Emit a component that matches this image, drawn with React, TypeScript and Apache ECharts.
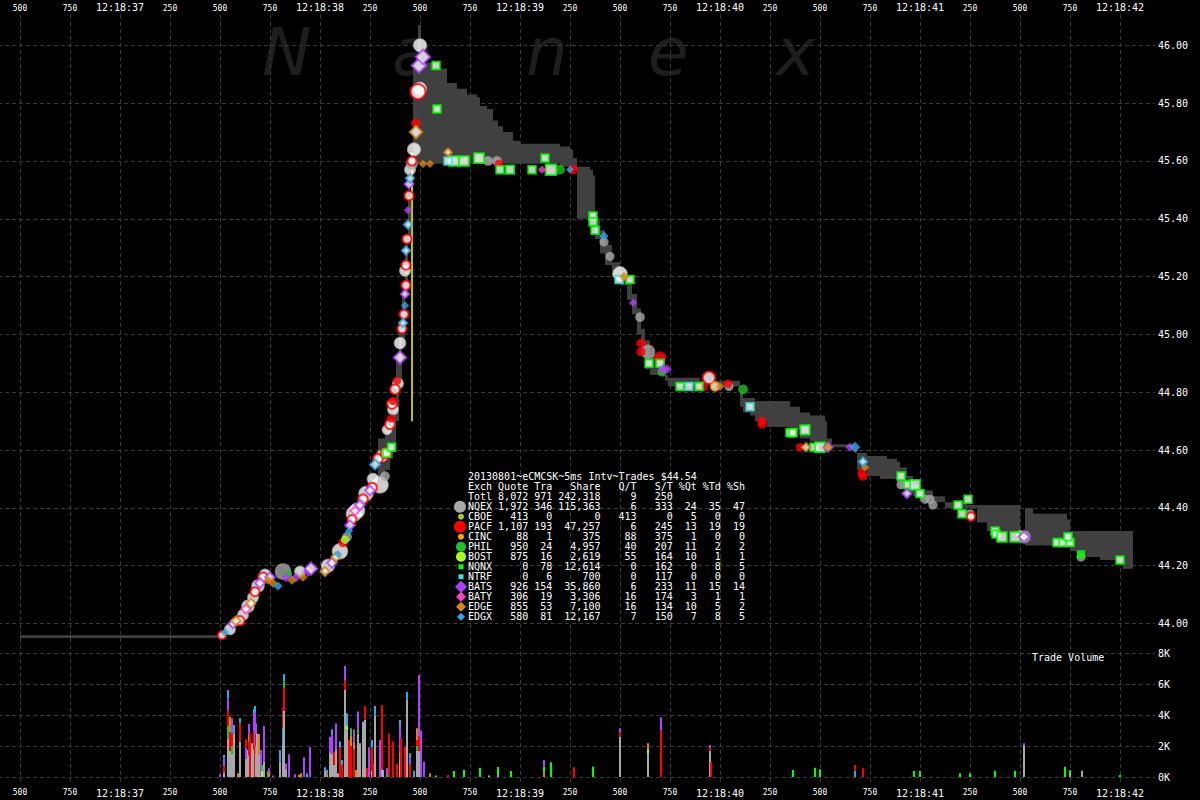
import React, { useEffect, useRef } from "react";
import * as echarts from "echarts";

// ---------- DATA ----------
const exchanges = ["NQEX", "CBOE", "PACF", "CINC", "PHIL", "BOST", "NQNX", "NTRF", "BATS", "BATY", "EDGE", "EDGX"];
const exColors = ["#a8a8a8", "#9acd32", "#ff0000", "#ffa500", "#22c322", "#a8ff28", "#00ff00", "#40e0d0", "#b040ff", "#ff40c8", "#d4880c", "#30a8e8"];
const exSymbols = ["circle", "circle", "circle", "circle", "circle", "circle", "rect", "rect", "diamond", "diamond", "diamond", "diamond"];

const quoteCounts = [1972, 413, 1107, 88, 950, 875, 0, 0, 926, 306, 855, 580];
const tradeCounts = [346, 0, 193, 1, 24, 16, 78, 6, 154, 19, 53, 81];
const shareCounts = [115363, 0, 47257, 375, 4957, 2619, 12614, 700, 35860, 3306, 7100, 12167];
const qtRatios = [6, 413, 6, 88, 40, 55, 0, 0, 6, 16, 16, 7];
const stRatios = [333, 0, 245, 375, 207, 164, 162, 117, 233, 174, 134, 150];
const pctQuotes = [24, 5, 13, 1, 11, 10, 0, 0, 11, 3, 10, 7];
const pctTrades = [35, 0, 19, 0, 2, 1, 8, 0, 15, 1, 5, 8];
const pctShares = [47, 0, 19, 0, 2, 1, 5, 0, 14, 1, 2, 5];
const totalRow = [8072, 971, 242318, 9, 250];
const chartTitle = "20130801~eCMCSK~5ms Intv~Trades $44.54";

// time = seconds after 12:18:36, price in $; [t, price, shares, hollow]
const tradesNQEX = [
  [1.55, 43.98, 300, 1], [1.615, 44.03, 300, 1], [1.64, 44.06, 500, 1], [1.665, 44.09, 300, 1],
  [1.69, 44.13, 500, 1], [1.725, 44.17, 300, 1], [1.815, 44.18, 1200, 0], [1.9, 44.18, 300, 1],
  [2.04, 44.2, 600, 1], [2.1, 44.25, 1000, 1], [2.135, 44.3, 200, 0], [2.17, 44.38, 1000, 1],
  [2.185, 44.39, 1000, 1], [2.23, 44.45, 800, 1], [2.3, 44.48, 1200, 1], [2.265, 44.5, 400, 1],
  [2.325, 44.51, 200, 0], [2.31, 44.58, 400, 1], [2.335, 44.67, 200, 1], [2.365, 44.74, 300, 1],
  [2.39, 44.83, 300, 1], [2.4, 44.97, 400, 1], [2.425, 45.22, 300, 1], [2.45, 45.57, 300, 1],
  [2.46, 45.59, 400, 0], [2.47, 45.64, 600, 1], [2.5, 45.85, 600, 1], [2.5, 46.0, 600, 1],
  [2.84, 45.6, 200, 0], [2.885, 45.6, 200, 0], [3.42, 45.32, 150, 0], [3.45, 45.27, 150, 0],
  [3.5, 45.21, 800, 1], [3.6, 45.06, 200, 0], [3.64, 44.94, 800, 0], [4.045, 44.82, 150, 0],
  [4.905, 44.48, 150, 0], [5.025, 44.43, 150, 0], [5.05, 44.43, 150, 0], [5.065, 44.41, 150, 0],
  [5.25, 44.38, 150, 0], [5.52, 44.3, 600, 0], [5.805, 44.23, 150, 0],
];
const tradesPACF = [
  [1.51, 43.96, 100, 1], [1.6, 44.01, 150, 1], [1.675, 44.11, 150, 1], [1.715, 44.16, 200, 1],
  [2.115, 44.28, 150, 0], [2.16, 44.36, 150, 1], [2.215, 44.43, 200, 1], [2.26, 44.47, 200, 1],
  [2.29, 44.57, 200, 1], [2.33, 44.59, 300, 1], [2.35, 44.69, 200, 1], [2.355, 44.71, 100, 0],
  [2.36, 44.76, 200, 1], [2.365, 44.77, 100, 0], [2.375, 44.81, 200, 1], [2.385, 44.84, 100, 0],
  [2.41, 45.02, 150, 1], [2.42, 45.07, 150, 1], [2.43, 45.17, 150, 1], [2.43, 45.24, 150, 1],
  [2.435, 45.33, 150, 1], [2.445, 45.48, 150, 1], [2.46, 45.6, 150, 1], [2.48, 45.73, 200, 0],
  [2.49, 45.84, 900, 1], [2.895, 45.59, 100, 0], [3.265, 45.57, 200, 0], [3.605, 44.97, 150, 0],
  [3.605, 44.94, 150, 0], [3.7, 44.92, 500, 0], [3.945, 44.85, 500, 1], [3.915, 44.82, 200, 0],
  [4.04, 44.83, 100, 0], [4.21, 44.7, 150, 0], [4.21, 44.69, 150, 0], [4.4, 44.61, 100, 0],
  [4.71, 44.52, 150, 0], [4.715, 44.51, 150, 0], [5.255, 44.37, 100, 1],
];
const tradesCINC = [[3.975, 44.82, 100, 1]];
const tradesPHIL = [[1.84, 44.17, 100, 0], [3.2, 45.57, 200, 0], [3.71, 44.87, 150, 0], [4.115, 44.81, 200, 0]];
const tradesBOST = [[2.125, 44.29, 100, 0], [5.5, 44.31, 60, 0]];
const tradesNQNX = [
  [2.333, 44.59, 100, 1], [2.358, 44.61, 100, 1], [2.58, 45.93, 100, 1], [2.585, 45.78, 100, 1],
  [2.67, 45.6, 300, 1], [2.72, 45.6, 300, 1], [2.795, 45.61, 300, 1], [2.9, 45.57, 100, 1],
  [2.95, 45.57, 150, 1], [3.06, 45.57, 100, 1], [3.125, 45.61, 100, 1], [3.155, 45.57, 400, 1],
  [3.365, 45.41, 100, 1], [3.365, 45.39, 100, 1], [3.375, 45.36, 100, 1], [3.55, 45.19, 100, 1],
  [3.645, 44.9, 100, 1], [3.7, 44.9, 100, 1], [3.8, 44.82, 100, 1], [3.895, 44.82, 100, 1],
  [4.35, 44.66, 100, 1], [4.365, 44.66, 100, 1], [4.425, 44.67, 250, 1], [4.47, 44.61, 100, 1],
  [4.5, 44.61, 300, 1], [4.905, 44.51, 100, 1], [4.94, 44.48, 100, 1], [4.975, 44.48, 300, 1],
  [5.0, 44.45, 100, 1], [5.19, 44.41, 100, 1], [5.24, 44.43, 100, 1], [5.21, 44.38, 100, 1],
  [5.375, 44.32, 100, 1], [5.38, 44.31, 100, 1], [5.41, 44.3, 300, 1], [5.475, 44.3, 300, 1],
  [5.685, 44.28, 100, 1], [5.715, 44.28, 100, 1], [5.75, 44.28, 100, 1], [5.74, 44.3, 100, 1],
  [5.805, 44.24, 150, 0], [6.0, 44.22, 100, 1],
];
const tradesNTRF = [[2.64, 45.6, 100, 1], [3.495, 45.19, 100, 1], [3.845, 44.82, 100, 1], [4.15, 44.75, 100, 1]];
const tradesBATS = [
  [1.565, 44.0, 150, 1], [1.7, 44.14, 200, 1], [1.75, 44.16, 200, 1], [1.83, 44.16, 200, 0],
  [1.88, 44.16, 200, 0], [1.94, 44.18, 300, 0], [1.955, 44.19, 500, 1], [2.06, 44.21, 200, 1],
  [2.15, 44.34, 200, 1], [2.2, 44.41, 200, 1], [2.25, 44.46, 200, 1], [2.4, 44.92, 500, 1],
  [2.425, 45.14, 100, 1], [2.44, 45.43, 100, 0], [2.445, 45.52, 150, 1], [2.495, 45.93, 800, 1],
  [2.515, 45.96, 800, 1], [3.565, 45.11, 100, 0], [3.715, 44.88, 200, 0], [3.735, 44.88, 200, 0],
  [4.54, 44.61, 150, 1], [4.65, 44.61, 150, 0], [4.935, 44.45, 150, 1], [5.52, 44.3, 300, 1],
];
const tradesBATY = [[1.63, 44.05, 150, 1], [2.175, 44.39, 150, 1], [3.11, 45.57, 100, 0]];
const tradesEDGE = [
  [1.58, 44.01, 150, 1], [1.655, 44.07, 150, 1], [1.74, 44.15, 150, 0], [1.765, 44.14, 150, 0],
  [1.86, 44.15, 150, 0], [1.915, 44.16, 150, 0], [2.025, 44.18, 150, 1], [2.08, 44.23, 150, 1],
  [2.48, 45.7, 500, 1], [2.515, 45.59, 100, 0], [2.55, 45.59, 100, 0], [2.64, 45.63, 60, 1],
  [3.52, 45.2, 200, 0], [4.0, 44.82, 100, 0], [4.43, 44.61, 100, 1], [4.54, 44.61, 150, 0],
  [4.725, 44.54, 100, 0],
];
const tradesEDGX = [
  [1.525, 43.97, 100, 0], [1.79, 44.13, 150, 0], [2.09, 44.24, 100, 0], [2.145, 44.32, 100, 0],
  [2.275, 44.55, 200, 1], [2.415, 45.04, 100, 1], [2.425, 45.1, 100, 0], [2.43, 45.29, 100, 1],
  [2.44, 45.38, 100, 1], [2.45, 45.54, 100, 1], [3.25, 45.57, 60, 0], [3.42, 45.34, 150, 0],
  [4.675, 44.61, 300, 0], [4.715, 44.56, 100, 1],
];
const tradeLists = [tradesNQEX, [], tradesPACF, tradesCINC, tradesPHIL, tradesBOST, tradesNQNX, tradesNTRF, tradesBATS, tradesBATY, tradesEDGE, tradesEDGX];

// NBBO spread steps: [t, ask, bid]
const spreadSteps = [
  [0.5, 43.96, 43.95], [1.5, 44.3, 44.3], [2.29, 44.64, 44.5], [2.325, 44.67, 44.53],
  [2.35, 44.7, 44.57], [2.365, 44.76, 44.62], [2.38, 44.91, 44.7], [2.395, 45.02, 44.84], [2.41, 45.15, 44.98],
  [2.425, 45.31, 45.15], [2.44, 45.47, 45.33], [2.455, 45.59, 45.47], [2.465, 45.93, 45.59], [2.49, 46.07, 45.59],
  [2.505, 45.94, 45.59], [2.575, 45.92, 45.59], [2.635, 45.87, 45.59], [2.685, 45.85, 45.59], [2.735, 45.83, 45.59],
  [2.785, 45.82, 45.59], [2.8, 45.79, 45.59], [2.835, 45.78, 45.59], [2.865, 45.74, 45.59], [2.89, 45.72, 45.59],
  [2.915, 45.7, 45.59], [2.965, 45.67, 45.59], [3.0, 45.66, 45.59], [3.065, 45.66, 45.59], [3.2, 45.65, 45.58],
  [3.25, 45.64, 45.57], [3.265, 45.61, 45.57], [3.285, 45.58, 45.4], [3.35, 45.57, 45.41], [3.365, 45.55, 45.41],
  [3.375, 45.4, 45.33], [3.4, 45.36, 45.28], [3.425, 45.31, 45.24], [3.46, 45.25, 45.2], [3.5, 45.22, 45.17],
  [3.535, 45.19, 45.12], [3.56, 45.14, 45.07], [3.585, 45.09, 45.0], [3.605, 45.02, 44.95], [3.625, 44.98, 44.88],
  [3.65, 44.93, 44.86], [3.725, 44.86, 44.84], [3.74, 44.85, 44.82], [3.9, 44.84, 44.83], [4.0, 44.84, 44.82],
  [4.1, 44.8, 44.75], [4.115, 44.78, 44.73], [4.15, 44.78, 44.72], [4.175, 44.77, 44.7], [4.235, 44.77, 44.68],
  [4.35, 44.75, 44.67], [4.4, 44.73, 44.64], [4.45, 44.72, 44.63], [4.525, 44.7, 44.62], [4.535, 44.64, 44.62],
  [4.56, 44.62, 44.61], [4.675, 44.61, 44.59], [4.685, 44.59, 44.53], [4.735, 44.58, 44.51], [4.8, 44.58, 44.5],
  [4.835, 44.57, 44.5], [4.885, 44.56, 44.49], [4.9, 44.54, 44.47], [4.935, 44.51, 44.45], [4.965, 44.48, 44.44],
  [5.0, 44.46, 44.43], [5.065, 44.44, 44.42], [5.125, 44.42, 44.4], [5.235, 44.41, 44.4], [5.285, 44.41, 44.35],
  [5.335, 44.41, 44.32], [5.5, 44.31, 44.28], [5.525, 44.4, 44.27], [5.565, 44.38, 44.27], [5.69, 44.38, 44.27],
  [5.735, 44.36, 44.27], [5.75, 44.32, 44.25], [5.785, 44.32, 44.23], [5.9, 44.32, 44.22], [6.015, 44.32, 44.19],
  [6.065, 44.32, 44.19],
];

const sweepLine = [[2.46, 44.7], [2.46, 45.63]];

// trade volume bars: [t, [[exchange, shares], ...bottom to top]]
const volumeBars = [
  [1.5, [["BATS", 170]]], [1.52, [["NQEX", 300], ["PACF", 400], ["BATS", 500], ["EDGX", 220]]],
  [1.54, [["NQEX", 2500], ["PHIL", 800], ["PACF", 1000], ["BATS", 800], ["EDGX", 530]]],
  [1.55, [["NQEX", 1700], ["PACF", 1200], ["EDGE", 1000]]],
  [1.56, [["NQEX", 1500], ["PHIL", 500], ["PACF", 800], ["BATS", 1000]]],
  [1.57, [["NQEX", 2800], ["EDGX", 560]]], [1.59, [["EDGE", 240]]],
  [1.6, [["NQEX", 2300], ["PACF", 1200], ["EDGX", 300]]],
  [1.63, [["NQEX", 1200], ["BATS", 700], ["PACF", 540]]], [1.64, [["NQEX", 1750]]],
  [1.645, [["NQEX", 1400], ["PACF", 900], ["EDGE", 500], ["BATS", 630]]], [1.65, [["PACF", 2820]]],
  [1.66, [["NQEX", 2180]]], [1.67, [["NQEX", 1800], ["PACF", 1200], ["BATS", 1000], ["EDGX", 400]]],
  [1.675, [["PACF", 2000], ["BATS", 2200], ["EDGX", 390]]],
  [1.68, [["NQEX", 1500], ["EDGE", 500], ["PACF", 800], ["BATS", 670]]], [1.685, [["NQEX", 2820]]],
  [1.695, [["NQEX", 1500], ["EDGE", 1280]]], [1.705, [["BATS", 1750]]], [1.71, [["BOST", 400], ["PHIL", 380]]],
  [1.72, [["NQEX", 1000], ["BATS", 2300]]], [1.74, [["PHIL", 390]]], [1.745, [["EDGE", 300], ["BATS", 260]]],
  [1.765, [["BATS", 100]]], [1.8, [["NQEX", 1000], ["EDGX", 750]]],
  [1.815, [["NQEX", 2000], ["EDGX", 1200], ["PACF", 1240]]],
  [1.82, [["NQEX", 4270], ["PACF", 1500], ["PHIL", 400], ["EDGX", 490]]], [1.83, [["NQEX", 500], ["BATS", 380]]],
  [1.845, [["BATS", 1470]]], [1.875, [["BATS", 170]]], [1.895, [["EDGE", 150]]], [1.905, [["EDGE", 240]]],
  [1.92, [["BATS", 1270]]], [1.935, [["EDGX", 240]]], [1.95, [["BATS", 1920]]],
  [2.025, [["NQEX", 400], ["EDGX", 225]]], [2.035, [["EDGE", 250], ["EDGX", 200]]],
  [2.05, [["NQEX", 1600], ["BATS", 1010]]], [2.06, [["NQEX", 1500], ["BATS", 1200], ["EDGX", 380]]],
  [2.07, [["NQEX", 800], ["PACF", 840]]], [2.08, [["NQEX", 1800], ["BATS", 1670]]], [2.09, [["NQEX", 240]]],
  [2.1, [["PACF", 1900], ["EDGX", 390]]], [2.11, [["PACF", 800], ["EDGX", 300]]],
  [2.125, [["NQEX", 5630], ["PACF", 600], ["BATS", 950]]], [2.135, [["NQEX", 3000], ["BOST", 300], ["EDGX", 820]]],
  [2.145, [["PACF", 2390]]], [2.155, [["PACF", 2000], ["EDGE", 700], ["PHIL", 450]]],
  [2.17, [["PACF", 1800], ["EDGE", 500], ["BATS", 780]]], [2.18, [["EDGE", 450]]],
  [2.19, [["NQEX", 2800], ["PHIL", 300], ["BATS", 1130]]], [2.2, [["NQEX", 2180]]], [2.215, [["NQEX", 3580]]],
  [2.225, [["NQEX", 3700], ["PACF", 890]]], [2.235, [["PACF", 560]]], [2.245, [["BATS", 1920]]],
  [2.26, [["NQEX", 400], ["PACF", 1500], ["EDGX", 490]]], [2.265, [["PACF", 880]]],
  [2.275, [["NQEX", 4000], ["EDGX", 590]]], [2.3, [["BATS", 2390]]], [2.31, [["NQEX", 500], ["PACF", 4160]]],
  [2.315, [["NQEX", 450]]], [2.335, [["PHIL", 200], ["BATS", 360]]], [2.345, [["PACF", 2820]]],
  [2.365, [["PACF", 2290]]], [2.385, [["PACF", 880]]],
  [2.4, [["NQEX", 1200], ["EDGE", 500], ["BATS", 1500], ["EDGX", 490]]], [2.405, [["PACF", 2500]]],
  [2.425, [["PACF", 1960]]], [2.435, [["NQEX", 5000], ["EDGX", 520]]],
  [2.45, [["PACF", 800], ["BATS", 400], ["EDGX", 330]]], [2.47, [["EDGX", 400]]],
  [2.485, [["NQEX", 1700], ["PHIL", 300], ["PACF", 400], ["EDGE", 750]]],
  [2.495, [["NQEX", 1700], ["PACF", 900], ["BATS", 4000]]], [2.505, [["BATS", 3000]]], [2.52, [["BATS", 990]]],
  [2.55, [["EDGE", 240]]], [2.58, [["NQNX", 100]]], [2.64, [["PACF", 130]]], [2.67, [["NQNX", 390]]],
  [2.72, [["NQNX", 450]]], [2.8, [["NQNX", 600]]], [2.845, [["NQEX", 100]]], [2.89, [["NQEX", 200], ["NQNX", 450]]],
  [2.955, [["NQNX", 390]]], [3.12, [["EDGE", 300], ["NQNX", 400], ["BATS", 400]]], [3.155, [["NQNX", 950]]],
  [3.27, [["PACF", 630]]], [3.365, [["NQNX", 670]]], [3.5, [["NQEX", 2600], ["PACF", 300], ["BATS", 250]]],
  [3.64, [["NQEX", 1500], ["BOST", 300], ["EDGE", 380]]], [3.705, [["PACF", 3000], ["BATS", 860]]],
  [3.95, [["NQEX", 1700], ["PACF", 200], ["BATS", 170]]], [3.955, [["PACF", 990]]], [4.365, [["NQNX", 450]]],
  [4.475, [["NQNX", 600]]], [4.5, [["NQNX", 500]]], [4.675, [["EDGX", 400], ["PACF", 380]]], [4.715, [["PACF", 600]]],
  [4.97, [["NQNX", 390]]], [5.0, [["NQNX", 410]]], [5.2, [["NQNX", 240]]], [5.25, [["NQNX", 240]]],
  [5.375, [["NQNX", 410]]], [5.475, [["NQNX", 410]]], [5.52, [["NQEX", 2000], ["BATS", 180]]],
  [5.725, [["NQNX", 670]]], [5.75, [["NQEX", 200], ["NQNX", 240]]], [5.81, [["NQEX", 410]]], [6.0, [["NQNX", 130]]],
];

const watermarkLetters = ["N", "a", "n", "e", "x"];

// ---------- HELPERS ----------
const MONO = '"DejaVu Sans Mono", monospace';
const OX = 30; // the chart div starts 30px left of / above the page origin
const OY = 30;
const fmtNum = (n: number) => n.toLocaleString("en-US");
const pad = (s: string | number, w: number) => String(s).padStart(w);

function timeLabel(v: number) {
  const ms = Math.round(v * 1000);
  const s = Math.floor(ms / 1000);
  const r = ms - s * 1000;
  return r === 0 ? `{big|12:18:${36 + s}}` : `{small|${r}}`;
}

function markerSize(shares: number, symbol: string) {
  const base = 5 + Math.sqrt(shares) / 3;
  return symbol === "rect" ? base * 0.9 : base;
}

export default function App() {
  const ref = useRef<HTMLDivElement>(null);

  useEffect(() => {
    if (!ref.current) return;
    const chart = echarts.init(ref.current, null, { renderer: "svg" });

    const gridLine = { color: "#3a3a3a", type: [4, 3] as any, width: 1 };
    const R = 45, XMIN = 0.25, XMAX = 6.175;

    const bandSeries = {
      type: "custom",
      xAxisIndex: 2,
      yAxisIndex: 1,
      z: 1,
      silent: true,
      data: [[spreadSteps[0][0], spreadSteps[0][1]]],
      renderItem: (params: any, api: any) => {
        const up: number[][] = [];
        const lo: number[][] = [];
        for (let i = 0; i < spreadSteps.length - 1; i++) {
          const [t0, ask, bid] = spreadSteps[i];
          const t1 = spreadSteps[i + 1][0];
          up.push(api.coord([t0, ask]), api.coord([t1, ask]));
          lo.push(api.coord([t0, bid]), api.coord([t1, bid]));
        }
        const points = up.concat(lo.reverse());
        return { type: "polygon", shape: { points }, style: { fill: "#404040" } };
      },
    };

    const volItems: number[][] = [];
    volumeBars.forEach(([t, segs]: any) => {
      let base = 0;
      segs.forEach(([ex, sh]: any) => {
        volItems.push([t, base, base + sh, exchanges.indexOf(ex)]);
        base += sh;
      });
    });
    const volSeries = {
      type: "custom",
      xAxisIndex: 3,
      yAxisIndex: 2,
      z: 2,
      silent: true,
      data: volItems,
      encode: { x: 0, y: [1, 2] },
      renderItem: (params: any, api: any) => {
        const t = api.value(0), b = api.value(1), top = api.value(2), ex = api.value(3);
        const p0 = api.coord([t, b]);
        const p1 = api.coord([t, top]);
        return {
          type: "rect",
          shape: { x: Math.round(p0[0]) - 1, y: p1[1], width: 2, height: p0[1] - p1[1] },
          style: { fill: exColors[ex] },
        };
      },
    };

    const tradeSeries = tradeLists.map((list, i) => ({
      type: "scatter",
      name: exchanges[i],
      xAxisIndex: 2,
      yAxisIndex: 1,
      z: 3 + (i === 0 ? 0 : 1),
      symbol: exSymbols[i],
      silent: true,
      data: list.map(([t, p, sh, h]) => ({
        value: [t, p],
        symbolSize: markerSize(sh, exSymbols[i]),
        itemStyle: h
          ? { color: "#ffffff", borderColor: exColors[i], borderWidth: i === 0 ? 1 : 2 }
          : { color: exColors[i], borderWidth: 0 },
      })),
    }));

    const lineSeries = {
      type: "line",
      xAxisIndex: 2,
      yAxisIndex: 1,
      z: 2,
      symbol: "none",
      silent: true,
      data: sweepLine,
      lineStyle: { color: "#ffff00", width: 1.5 },
    };

    const rowY = (i: number) => 476.7 + 10 * i + OY;
    const txt = (text: string, x: number, y: number, size = 10, extra: any = {}) => ({
      type: "text",
      x,
      y,
      z: 100,
      silent: true,
      style: { text, fill: "#ffffff", fontFamily: MONO, fontSize: size, verticalAlign: "middle", align: "left", ...extra },
    });
    const header = "Exch" + pad("Quote", 6) + pad("Tra", 4) + pad("Share", 8) + pad("Q/T", 6) + pad("S/T", 6) + pad("%Qt", 4) + pad("%Td", 4) + pad("%Sh", 4);
    const totl = "Totl" + pad(fmtNum(totalRow[0]), 6) + pad(totalRow[1], 4) + pad(fmtNum(totalRow[2]), 8) + pad(totalRow[3], 6) + pad(totalRow[4], 6);
    const TX = 468 + OX;
    const tableTexts: any[] = [txt(chartTitle, TX, rowY(0)), txt(header, TX, rowY(1)), txt(totl, TX, rowY(2))];
    const legendMarks: any[] = [];
    const circleR = [6, 3, 6, 3, 5, 5];
    const diamondR = [6, 5, 5, 4];
    exchanges.forEach((ex, i) => {
      const line = ex + pad(fmtNum(quoteCounts[i]), 6) + pad(tradeCounts[i], 4) + pad(fmtNum(shareCounts[i]), 8) +
        pad(qtRatios[i], 6) + pad(stRatios[i], 6) + pad(pctQuotes[i], 4) + pad(pctTrades[i], 4) + pad(pctShares[i], 4);
      const y = rowY(3 + i);
      tableTexts.push(txt(line, TX, y));
      const cx = 461 + OX;
      const sym = exSymbols[i];
      if (sym === "circle") {
        legendMarks.push({ type: "circle", z: 100, silent: true, shape: { cx: i === 0 || i === 2 ? cx - 1 : cx, cy: y, r: circleR[i] }, style: { fill: exColors[i] } });
      } else if (sym === "rect") {
        legendMarks.push({ type: "rect", z: 100, silent: true, shape: { x: cx - 2.5, y: y - 2.5, width: 5, height: 5 }, style: { fill: exColors[i] } });
      } else {
        const r = diamondR[i - 8];
        legendMarks.push({ type: "polygon", z: 100, silent: true, shape: { points: [[cx, y - r], [cx + r, y], [cx, y + r], [cx - r, y]] }, style: { fill: exColors[i] } });
      }
    });

    const watermarkX = [262, 392, 526, 648, 776];
    const watermark = watermarkLetters.map((ch, i) => ({
      type: "text",
      x: watermarkX[i] + OX,
      y: 52 + OY,
      z: -1,
      silent: true,
      style: { text: ch, fill: "#1e1e1e", fontFamily: '"DejaVu Sans", sans-serif', fontStyle: "italic", fontSize: 66, verticalAlign: "middle" },
    }));

    const timeRich = {
      big: { fontSize: 10, color: "#ffffff", fontFamily: MONO },
      small: { fontSize: 8, color: "#ffffff", fontFamily: MONO },
    };

    const option: any = {
      animation: false,
      backgroundColor: "#000000",
      grid: [
        { left: 0, right: R, top: 15 + OY, bottom: 15 },
        { left: 0, right: R, top: -12.5 + OY, bottom: 118.6 },
        { left: 0, right: R, top: 653.3 + OY, bottom: 23 },
      ],
      xAxis: [
        {
          gridIndex: 0, type: "value", position: "top", min: XMIN, max: XMAX, interval: 0.25,
          axisLine: { show: false }, axisTick: { show: false },
          splitLine: { show: true, showMinLine: false, showMaxLine: false, lineStyle: gridLine },
          axisLabel: { formatter: timeLabel, rich: timeRich, margin: 3, showMinLabel: false, showMaxLabel: false },
        },
        {
          gridIndex: 0, type: "value", position: "bottom", min: XMIN, max: XMAX, interval: 0.25,
          axisLine: { show: false }, axisTick: { show: false }, splitLine: { show: false },
          axisLabel: { formatter: timeLabel, rich: timeRich, margin: 3, showMinLabel: false, showMaxLabel: false },
        },
        { gridIndex: 1, type: "value", min: XMIN, max: XMAX, show: false },
        { gridIndex: 2, type: "value", min: XMIN, max: XMAX, show: false },
      ],
      yAxis: [
        { gridIndex: 0, type: "value", min: 0, max: 1, show: false },
        {
          gridIndex: 1, type: "value", position: "right", min: 43.8, max: 46.2, interval: 0.2,
          axisLine: { show: false }, axisTick: { show: false },
          splitLine: { show: true, showMinLine: false, showMaxLine: false, lineStyle: gridLine },
          axisLabel: {
            formatter: (v: number) => v.toFixed(2), color: "#ffffff", fontFamily: MONO, fontSize: 10, margin: 3,
            showMinLabel: false, showMaxLabel: false,
          },
        },
        {
          gridIndex: 2, type: "value", position: "right", min: 0, max: 8000, interval: 2000,
          axisLine: { show: false }, axisTick: { show: false },
          splitLine: { show: true, lineStyle: gridLine },
          axisLabel: { formatter: (v: number) => `${v / 1000}K`, color: "#ffffff", fontFamily: MONO, fontSize: 10, margin: 3 },
        },
      ],
      graphic: { elements: [...watermark, ...legendMarks, ...tableTexts, txt("Trade Volume", 1032 + OX, 657 + OY)] },
      series: [bandSeries, lineSeries, ...tradeSeries, volSeries],
    };

    chart.setOption(option);
    return () => chart.dispose();
  }, []);

  return (
    <div style={{ position: "fixed", left: 0, top: 0, width: 1200, height: 800, overflow: "hidden", background: "#000" }}>
      <div
        ref={ref}
        style={{ position: "absolute", left: -OX, top: -OY, width: 1200 + OX, height: 800 + OY }}
      />
    </div>
  );
}
